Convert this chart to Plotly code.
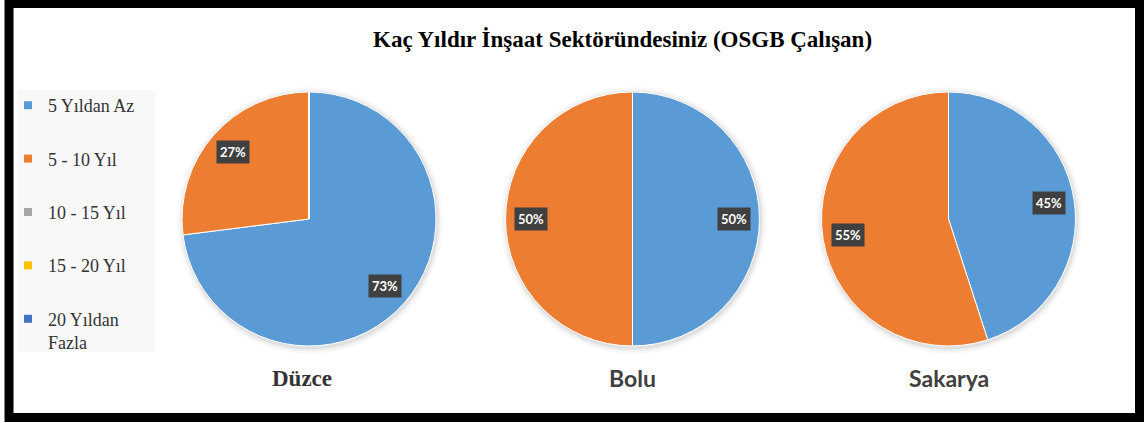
import math
import plotly.graph_objects as go

# veriler
kategoriler = ["5 Yıldan Az", "5 - 10 Yıl", "10 - 15 Yıl", "15 - 20 Yıl", "20 Yıldan Fazla"]
renkler = ["#5B9BD5", "#ED7D31", "#A5A5A5", "#FFC000", "#4472C4"]
iller = ["Düzce", "Bolu", "Sakarya"]
duzce = [73, 27, 0, 0, 0]
bolu = [50, 50, 0, 0, 0]
sakarya = [45, 55, 0, 0, 0]
baslik = "Kaç Yıldır İnşaat Sektöründesiniz (OSGB Çalışan)"

W, H = 1144, 423
R = 127          # pasta yarıçapı (px)
CY = 219         # pasta merkezi (px, üstten)
merkezler = [309, 632.5, 948.5]

fig = go.Figure()
annots = []
shapes = []

for il, degerler, cx in zip(iller, [duzce, bolu, sakarya], merkezler):
    dom_x = [(cx - R) / W, (cx + R) / W]
    dom_y = [1 - (CY + R) / H, 1 - (CY - R) / H]
    fig.add_trace(go.Pie(
        labels=kategoriler, values=degerler, sort=False,
        direction="clockwise", rotation=0,
        marker=dict(colors=renkler, line=dict(color="white", width=1)),
        textinfo="none", hoverinfo="label+percent",
        domain=dict(x=dom_x, y=dom_y), showlegend=False,
    ))

    # hafif gölge
    for ek, alfa in [(6, 0.025), (3.5, 0.04), (1.5, 0.06)]:
        shapes.append(dict(
            type="circle", xref="paper", yref="paper",
            x0=(cx - R - ek + 1) / W, x1=(cx + R + ek + 1) / W,
            y0=1 - (CY + R + ek + 2) / H, y1=1 - (CY - R - ek + 1) / H,
            fillcolor="rgba(0,0,0,%s)" % alfa, line=dict(width=0), layer="below",
        ))

    # yüzde etiketleri (koyu kutulu), dilim ortasına
    toplam = sum(degerler)
    bas = 0
    for v in degerler:
        if v == 0:
            continue
        orta = (bas + v / 2) / toplam * 2 * math.pi
        bas += v
        dx = 0.8 * R * math.sin(orta)
        dy = 0.8 * R * math.cos(orta)
        annots.append(dict(
            x=cx / W + dx / W, y=1 - CY / H + dy / H, xref="paper", yref="paper",
            xanchor="center", yanchor="middle",
            text="<b>%d%%</b>" % round(v / toplam * 100), showarrow=False,
            font=dict(family="Lato", size=13, color="white"),
            bgcolor="#404040", borderpad=3,
        ))

    # il isimleri
    if il == "Düzce":
        f = dict(family="Liberation Serif", size=23, color="#333333")
    else:
        f = dict(family="Lato", size=23, color="#404040")
    annots.append(dict(
        x=cx / W - (7 / W if il == "Düzce" else 0), y=1 - 378 / H,
        xref="paper", yref="paper", xanchor="center", yanchor="middle",
        text="<b>%s</b>" % il, showarrow=False, font=f,
    ))

# lejant için boş izler
for i, (k, c) in enumerate(zip(kategoriler, renkler)):
    ad = "20 Yıldan<br>Fazla" if k == "20 Yıldan Fazla" else k
    fig.add_trace(go.Scatter(
        x=[None], y=[None], mode="markers", name=ad,
        marker=dict(symbol="square", size=8, color=c),
        legendgroup=str(i), showlegend=True,
    ))

annots.append(dict(
    x=622 / W, y=1 - 39 / H, xref="paper", yref="paper",
    xanchor="center", yanchor="middle",
    text="<b>%s</b>" % baslik, showarrow=False,
    font=dict(family="Liberation Serif", size=23, color="black"),
))

shapes += [
    dict(type="rect", xref="paper", yref="paper",
         x0=18 / W, x1=155 / W, y0=1 - 352 / H, y1=1 - 90 / H,
         fillcolor="#f8f8f8", line=dict(width=0), layer="below"),
    dict(type="rect", xref="paper", yref="paper",
         x0=9 / W, x1=1139.5 / W, y0=1 - 417.5 / H, y1=1 - 3.5 / H,
         line=dict(color="black", width=9)),
]

fig.update_layout(
    width=W, height=H,
    margin=dict(l=0, r=0, t=0, b=0),
    paper_bgcolor="white", plot_bgcolor="white",
    xaxis=dict(visible=False), yaxis=dict(visible=False),
    annotations=annots,
    legend=dict(
        x=8 / W, y=1 - 87 / H, xanchor="left", yanchor="top",
        bgcolor="rgba(0,0,0,0)", tracegroupgap=27, valign="top",
        font=dict(family="Liberation Serif", size=18, color="#333333"),
        itemwidth=30,
    ),
    shapes=shapes,
)

fig.write_html("out.html", config={"displayModeBar": False},
               post_script="document.body.style.margin='0';")
